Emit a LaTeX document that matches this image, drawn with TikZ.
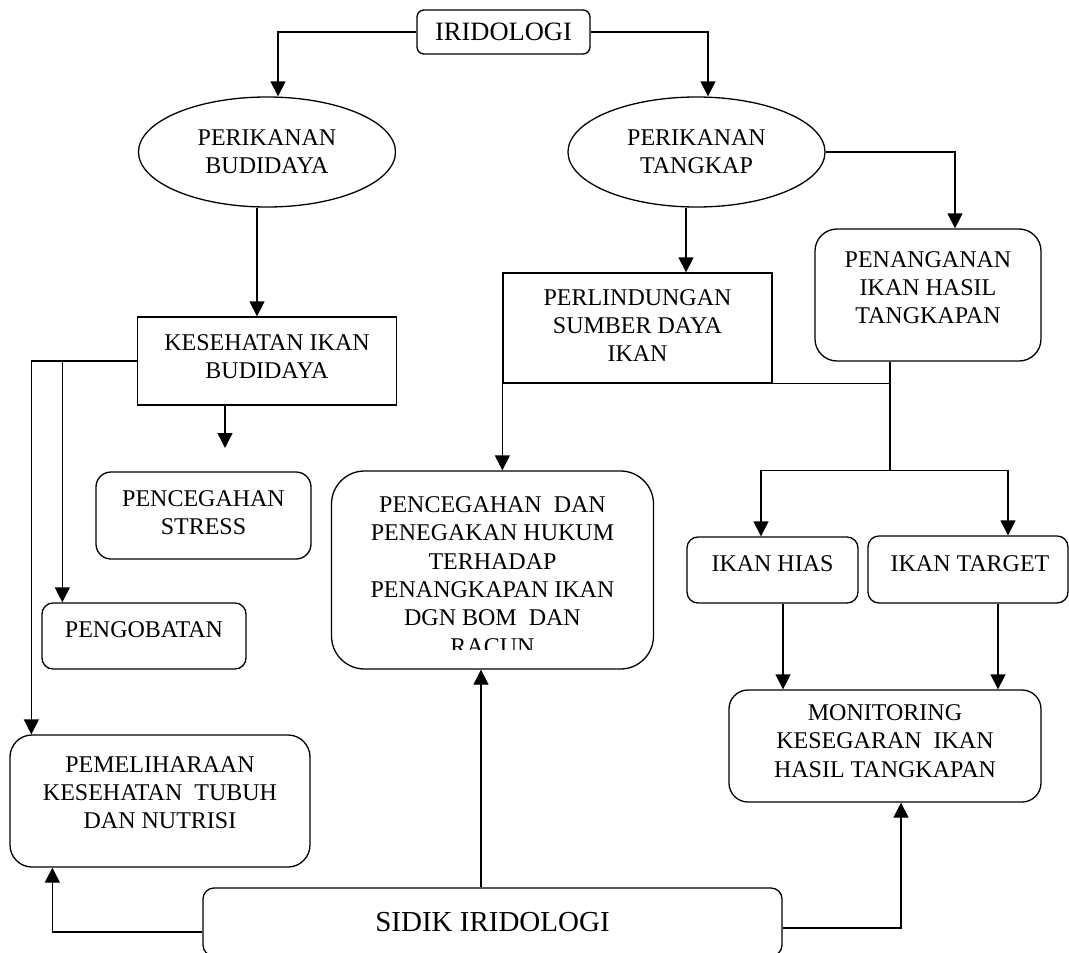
\documentclass[tikz,border=0pt]{standalone}
\usepackage{fontspec}
\setmainfont{Liberation Serif}
\usetikzlibrary{positioning,arrows.meta,shapes.geometric}
\newcommand{\boxfont}{\fontsize{24pt}{28.3pt}\selectfont}

\begin{document}
\begin{tikzpicture}[
  x=1pt, y=-1pt,
  box/.style = {draw, line width=1.3pt, inner sep=0pt, align=center, font=\boxfont},
  rbox/.style = {box, rounded corners=#1},
  rbox/.default = 11pt,
  oval/.style = {box, ellipse, minimum width=257pt, minimum height=110pt},
  lab/.style = {inner sep=0pt, align=center, font=\boxfont},
  flow/.style = {-{Triangle[length=15pt,width=15pt]}, line width=1.3pt},
  link/.style = {line width=1.3pt}
  ]
  \useasboundingbox (0,0) rectangle (1069,953);

  \node[rbox=7pt, minimum width=173pt, minimum height=44pt, font=\fontsize{26.5pt}{30pt}\selectfont] (irid) at (503.5,32) {IRIDOLOGI};
  \node[oval] (budidaya) at (267,152) {PERIKANAN\\BUDIDAYA};
  \node[oval] (tangkap) at (696.5,152) {PERIKANAN\\TANGKAP};

  % left branch
  \node[box, minimum width=259pt, minimum height=88pt] (kesehatan) at (267,361) {};
  \node[lab] (kesehatan-t) at ([yshift=4pt]kesehatan.center) {KESEHATAN IKAN\\BUDIDAYA};
  \node[rbox=15pt, minimum width=215pt, minimum height=87pt] (stress) at (203.5,515.5) {};
  \node[lab] (stress-t) at ([yshift=3pt]stress.center) {PENCEGAHAN\\STRESS};
  \node[rbox, minimum width=204pt, minimum height=66pt] (pengobatan) at (144,636) {};
  \node[lab] (pengobatan-t) at ([yshift=6.5pt]pengobatan.center) {PENGOBATAN};
  \node[rbox=22pt, minimum width=300pt, minimum height=132pt] (pemeliharaan) at (160,801) {};
  \node[lab] (pemeliharaan-t) at ([yshift=8.5pt]pemeliharaan.center) {PEMELIHARAAN\\KESEHATAN\ \ TUBUH\\DAN NUTRISI};

  % right branch
  \node[box, minimum width=269pt, minimum height=110pt] (perlindungan) at (637.5,328) {};
  \node[lab] (perlindungan-t) at ([yshift=2.5pt]perlindungan.center) {PERLINDUNGAN\\SUMBER DAYA\\IKAN};
  \node[rbox=22pt, minimum width=226pt, minimum height=132pt] (penanganan) at (928,295) {};
  \node[lab] (penanganan-t) at ([yshift=7.5pt]penanganan.center) {PENANGANAN\\IKAN HASIL\\TANGKAPAN};
  \node[rbox=33pt, minimum width=322pt, minimum height=198pt] (pencegahan) at (492.5,570) {};
  \begin{scope}
    \clip (pencegahan.north west) rectangle ([yshift=20pt]pencegahan.south east);
    \node[lab] (pencegahan-t) at ([yshift=-5.5pt]pencegahan.center) {PENCEGAHAN\ \ DAN\\PENEGAKAN HUKUM\\TERHADAP\\PENANGKAPAN IKAN\\DGN BOM\ \ DAN\\RACUN};
  \end{scope}
  \node[rbox, minimum width=171pt, minimum height=66pt] (hias) at (772.5,570) {};
  \node[lab] (hias-t) at ([yshift=6.5pt]hias.center) {IKAN HIAS};
  \node[rbox, minimum width=200pt, minimum height=67pt] (target) at (968,569.5) {};
  \node[lab] (target-t) at ([yshift=6pt, xshift=2pt]target.center) {IKAN TARGET};
  \node[rbox=19pt, minimum width=312pt, minimum height=112pt] (monitoring) at (885,746) {};
  \node[lab] (monitoring-t) at ([yshift=5pt]monitoring.center) {MONITORING\\KESEGARAN\ \ IKAN\\HASIL TANGKAPAN};

  \node[rbox, minimum width=579pt, minimum height=68pt, font=\fontsize{29pt}{33pt}\selectfont] (sidik) at (492.5,922) {SIDIK IRIDOLOGI};

  % connectors
  \draw[flow] (irid.west) -| ([xshift=11pt]budidaya.north);
  \draw[flow] (irid.east) -| ([xshift=11.5pt]tangkap.north);
  \draw[flow] ([xshift=-10pt]budidaya.south) -- ([xshift=-10pt]kesehatan.north);
  \draw[flow] (kesehatan.west) -| ([xshift=22pt]pemeliharaan.north west);
  \draw[flow] (kesehatan.west) -| ([xshift=21pt]pengobatan.north west);
  \coordinate (stress-in) at (225,448);
  \draw[flow] ([xshift=-42pt]kesehatan.south) -- (stress-in);

  \draw[flow] ([xshift=-10.5pt]tangkap.south) -- ([xshift=48.5pt]perlindungan.north);
  \draw[flow] (tangkap.east) -| ([xshift=27pt]penanganan.north);
  \coordinate (pdrop) at ([xshift=-38pt]penanganan.south);
  \coordinate (join) at (pdrop |- perlindungan.south);
  \coordinate (fork) at (pdrop |- pencegahan.north);
  \draw[link] (pdrop) -- (fork);
  \draw[flow] (join) -| (perlindungan.south west |- pencegahan.north);
  \draw[flow] (fork) -| ([xshift=-11.5pt]hias.north);
  \draw[flow] (fork) -| ([xshift=40pt]target.north);
  \draw[flow] ([xshift=10.5pt]hias.south) -- ([xshift=-102pt]monitoring.north);
  \draw[flow] ([xshift=30pt]target.south) -- ([xshift=113pt]monitoring.north);

  \draw[flow] ([yshift=-10pt]sidik.west) -| ([xshift=43pt]pemeliharaan.south west);
  \draw[flow] ([xshift=-11.5pt]sidik.north) -- ([xshift=-11.5pt]pencegahan.south);
  \draw[flow] ([yshift=-6pt]sidik.east) -| ([xshift=16pt]monitoring.south);

\end{tikzpicture}
\end{document}
